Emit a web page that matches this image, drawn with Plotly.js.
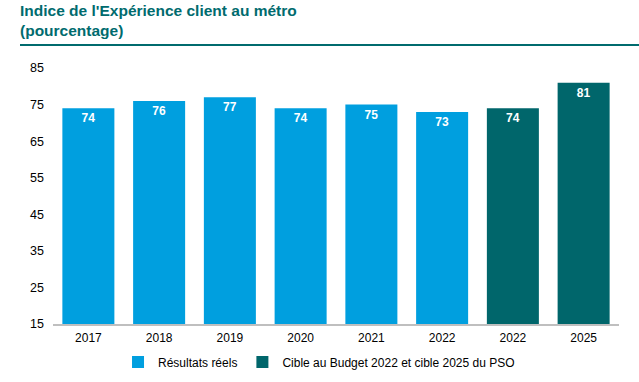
<!DOCTYPE html>
<html>
<head>
<meta charset="utf-8">
<script src="https://cdn.plot.ly/plotly-3.0.1.min.js"></script>
<style>html,body{margin:0;padding:0;background:#fff}#chart{width:639px;height:382px}</style>
</head>
<body>
<div id="chart"></div>
<script>
const categories = ["2017","2018","2019","2020","2021","2022","2022","2025"];
const actualValues = [74, 76, 77, 74, 75, 73];
const targetValues = [74, 81];
const seriesNames = ["Résultats réels", "Cible au Budget 2022 et cible 2025 du PSO"];
const chartTitle = "Indice de l'Expérience client au métro<br>(pourcentage)";

const positions = categories.map((c, i) => i);
const actualX = positions.slice(0, actualValues.length);
const targetX = positions.slice(actualValues.length);

const labelFont = {family: "Liberation Sans, Arial, sans-serif", size: 12, color: "#ffffff", weight: "bold"};

const traces = [
  {type: "bar", name: seriesNames[0], x: actualX, y: actualValues, width: 0.735,
   marker: {color: "#009FDF"}, text: actualValues.map(String), textposition: "inside",
   insidetextanchor: "end", textfont: labelFont, cliponaxis: false, hoverinfo: "skip"},
  {type: "bar", name: seriesNames[1], x: targetX, y: targetValues, width: 0.735,
   marker: {color: "#00666B"}, text: targetValues.map(String), textposition: "inside",
   insidetextanchor: "end", textfont: labelFont, cliponaxis: false, hoverinfo: "skip"}
];

const layout = {
  width: 639, height: 382,
  margin: {l: 53, r: 20, t: 68, b: 58, autoexpand: false},
  paper_bgcolor: "#ffffff", plot_bgcolor: "#ffffff",
  font: {family: "Liberation Sans, Arial, sans-serif", size: 12, color: "#000000"},
  barmode: "overlay",
  title: {text: chartTitle, x: 20/639, xref: "container", xanchor: "left",
          y: 1 - 16/382, yref: "container", yanchor: "top",
          font: {family: "Liberation Sans, Arial, sans-serif", size: 15.5, color: "#006B6E", weight: "bold"}},
  xaxis: {tickmode: "array", tickvals: positions, ticktext: categories,
          range: [-0.5, categories.length - 0.5], showgrid: false, zeroline: false,
          showline: true, linecolor: "#BFBFBF", linewidth: 2, ticks: "",
          ticklabelstandoff: 2,
          tickfont: {size: 12, color: "#000000"}, fixedrange: true},
  yaxis: {range: [15, 85], tickvals: [15,25,35,45,55,65,75,85], showgrid: false,
          zeroline: false, showline: false, ticks: "", ticklen: 0,
          ticklabelstandoff: 8,
          tickfont: {size: 12.5, color: "#000000"}, fixedrange: true},
  legend: {orientation: "h", x: 0.47, xanchor: "center", yref: "container",
           y: (382 - 362) / 382, yanchor: "middle",
           font: {size: 12, color: "#000000"}, itemwidth: 30, traceorder: "normal"},
  shapes: [{type: "line", xref: "paper", yref: "paper", x0: (20-53)/566, x1: (639-53)/566,
            y0: (324-45)/256, y1: (324-45)/256, line: {color: "#006B6E", width: 2}}],
  showlegend: true
};

Plotly.newPlot("chart", traces, layout, {displayModeBar: false, staticPlot: true});
</script>
</body>
</html>
